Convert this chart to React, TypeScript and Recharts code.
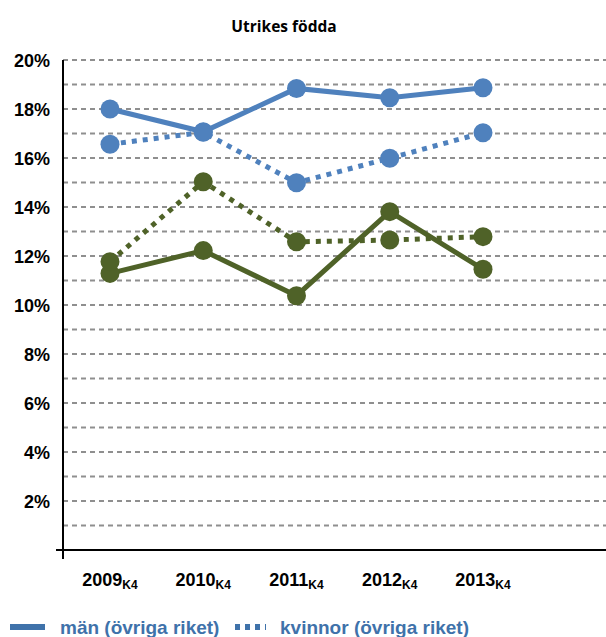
import { CartesianGrid, Line, LineChart, XAxis, YAxis } from "recharts";

const years = ["2009", "2010", "2011", "2012", "2013"];
const menRest = [18.0, 17.07, 18.84, 18.46, 18.87];
const womenRest = [16.56, 17.05, 14.99, 15.99, 17.03];
const menRegion = [11.29, 12.22, 10.38, 13.81, 11.46];
const womenRegion = [11.77, 15.03, 12.58, 12.65, 12.79];
const yTicks = [0, 1, 2, 3, 4, 5, 6, 7, 8, 9, 10, 11, 12, 13, 14, 15, 16, 17, 18, 19, 20];

const BLUE = "#4F81BD";
const GREEN = "#4F6228";
const LEGEND_BLUE = "#3F72AA";
const AXIS_X = 63;

const data = years.map((year, i) => ({
  year,
  menRest: menRest[i],
  womenRest: womenRest[i],
  menRegion: menRegion[i],
  womenRegion: womenRegion[i],
}));

const labelFont = "'Liberation Sans', Arial, sans-serif";

const YTick = (props: any) => {
  const { x, y, payload } = props;
  const v = payload.value as number;
  if (v === 0) {
    return (
      <g>
        <line x1={AXIS_X - 7} y1={y} x2={AXIS_X} y2={y} stroke="#000" strokeWidth={2} />
        <line x1={AXIS_X} y1={y} x2={AXIS_X} y2={y + 9} stroke="#000" strokeWidth={2} />
      </g>
    );
  }
  if (v % 2 !== 0) return <g />;
  return (
    <text
      x={x}
      y={y}
      dy={6.5}
      textAnchor="end"
      fontFamily={labelFont}
      fontWeight="bold"
      fontSize={18}
      fill="#000"
    >
      {`${v}%`}
    </text>
  );
};

const XTick = (props: any) => {
  const { x, y, payload } = props;
  return (
    <text
      x={x}
      y={y}
      dy={28}
      textAnchor="middle"
      fontFamily={labelFont}
      fontWeight="bold"
      fill="#000"
    >
      <tspan fontSize={18}>{payload.value}</tspan>
      <tspan fontSize={12} dy={3}>
        K4
      </tspan>
    </text>
  );
};

const dotStyle = (color: string) => ({ r: 9.5, fill: color, stroke: "none", strokeDasharray: "" });

export default function App() {
  return (
    <div
      style={{
        position: "absolute",
        left: 0,
        top: 0,
        width: 606,
        height: 637,
        background: "#fff",
        overflow: "hidden",
      }}
    >
      <div
        style={{
          position: "absolute",
          left: 0,
          width: 568,
          top: 15,
          textAlign: "center",
          fontFamily: "'Open Sans', sans-serif",
          fontWeight: 700,
          fontSize: 15.5,
          color: "#000",
        }}
      >
        Utrikes födda
      </div>
      <LineChart
        width={606}
        height={637}
        data={data}
        margin={{ top: 60, right: 0, bottom: 0, left: 0 }}
      >
        <CartesianGrid
          vertical={false}
          stroke="#8f8f8f"
          strokeWidth={2}
          strokeDasharray="5 4"
        />
        <XAxis
          dataKey="year"
          height={87}
          padding={{ left: 47, right: 123 }}
          axisLine={{ stroke: "#000", strokeWidth: 2 }}
          tickLine={false}
          tick={<XTick />}
          interval={0}
        />
        <YAxis
          width={AXIS_X}
          domain={[0, 20]}
          ticks={yTicks}
          interval={0}
          axisLine={{ stroke: "#000", strokeWidth: 2 }}
          tickLine={false}
          tickMargin={7}
          tick={<YTick />}
        />
        <Line
          dataKey="menRest"
          name="män (övriga riket)"
          stroke={BLUE}
          strokeWidth={5}
          dot={dotStyle(BLUE)}
          activeDot={false}
          isAnimationActive={false}
        />
        <Line
          dataKey="womenRest"
          name="kvinnor (övriga riket)"
          stroke={BLUE}
          strokeWidth={5}
          strokeDasharray="5 6"
          dot={dotStyle(BLUE)}
          activeDot={false}
          isAnimationActive={false}
        />
        <Line
          dataKey="menRegion"
          name="män"
          stroke={GREEN}
          strokeWidth={5}
          dot={dotStyle(GREEN)}
          activeDot={false}
          isAnimationActive={false}
        />
        <Line
          dataKey="womenRegion"
          name="kvinnor"
          stroke={GREEN}
          strokeWidth={5}
          strokeDasharray="5 6"
          dot={dotStyle(GREEN)}
          activeDot={false}
          isAnimationActive={false}
        />
      </LineChart>
      <div
        style={{
          position: "absolute",
          left: 0,
          top: 617,
          width: 606,
          height: 30,
          fontFamily: labelFont,
          fontWeight: 700,
          fontSize: 19,
          lineHeight: "22px",
          color: LEGEND_BLUE,
        }}
      >
        <svg width={606} height={30} style={{ position: "absolute", left: 0, top: 0 }}>
          <line x1={10} y1={10} x2={45} y2={10} stroke={LEGEND_BLUE} strokeWidth={6} />
          <line
            x1={235}
            y1={10}
            x2={266}
            y2={10}
            stroke={LEGEND_BLUE}
            strokeWidth={6}
            strokeDasharray="5 5"
          />
        </svg>
        <span style={{ position: "absolute", left: 60, top: 0, whiteSpace: "nowrap" }}>
          män (övriga riket)
        </span>
        <span style={{ position: "absolute", left: 280, top: 0, whiteSpace: "nowrap" }}>
          kvinnor (övriga riket)
        </span>
      </div>
    </div>
  );
}
